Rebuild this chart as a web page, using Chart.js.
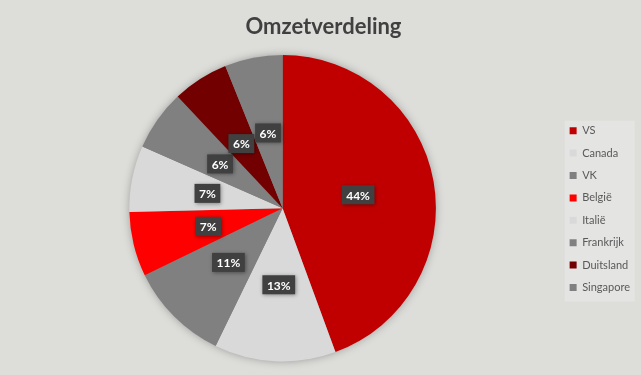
<!DOCTYPE html>
<html>
<head>
<meta charset="utf-8">
<script src="https://cdn.jsdelivr.net/npm/chart.js@4/dist/chart.umd.min.js"></script>
<style>
  html, body { margin: 0; padding: 0; background: #dddeda; }
  #wrap { width: 641px; height: 375px; }
</style>
</head>
<body>
<div id="wrap"><canvas id="pie-chart" width="641" height="375"></canvas></div>
<script>
"use strict";

// landen en omzetaandeel (in %)
const countries = ["VS", "Canada", "VK", "België", "Italië", "Frankrijk", "Duitsland", "Singapore"];
const revenueShare = [44.4, 12.8, 10.6, 6.8, 7.0, 6.4, 5.9, 6.1];
const sliceColors = ["#c00000", "#d9d9d9", "#808080", "#ff0000", "#d9d9d9", "#808080", "#720000", "#808080"];

// achtergrond, legendakader en schaduw achter de taart
const backgroundPlugin = {
    id: "background",
    beforeDraw(chart) {
        const ctx = chart.ctx;
        ctx.save();
        ctx.fillStyle = "#dddeda";
        ctx.fillRect(0, 0, chart.width, chart.height);
        const hb = chart.legend.legendHitBoxes;
        if (hb && hb.length) {
            const last = hb[hb.length - 1];
            const top = hb[0].top + hb[0].height / 2 - 10;
            const bottom = last.top + last.height / 2 + 14;
            ctx.fillStyle = "#e4e5e2";
            ctx.fillRect(hb[0].left - 5, top, 70, bottom - top);
        }
        ctx.restore();
    },
    beforeDatasetsDraw(chart) {
        const arc = chart.getDatasetMeta(0).data[0];
        if (!arc) return;
        const ctx = chart.ctx;
        ctx.save();
        ctx.shadowColor = "rgba(0,0,0,0.35)";
        ctx.shadowBlur = 10;
        ctx.beginPath();
        ctx.arc(arc.x, arc.y, arc.outerRadius - 1, 0, Math.PI * 2);
        ctx.fillStyle = "#808080";
        ctx.fill();
        ctx.restore();
    }
};

// percentagelabels in donkere vakjes
const labelPlugin = {
    id: "sliceLabels",
    afterDatasetsDraw(chart) {
        const ctx = chart.ctx;
        const values = chart.data.datasets[0].data;
        const total = values.reduce((a, b) => a + b, 0);
        ctx.save();
        ctx.font = "bold 12px Lato";
        ctx.textAlign = "center";
        ctx.textBaseline = "middle";
        chart.getDatasetMeta(0).data.forEach((arc, i) => {
            const p = arc.getCenterPoint();
            const text = Math.round(values[i] / total * 100) + "%";
            const w = ctx.measureText(text).width + 9;
            const h = 19;
            ctx.shadowColor = "rgba(0,0,0,0.4)";
            ctx.shadowBlur = 4;
            ctx.shadowOffsetX = 1;
            ctx.shadowOffsetY = 1;
            ctx.fillStyle = "#404040";
            ctx.fillRect(p.x - w / 2, p.y - h / 2, w, h);
            ctx.shadowColor = "transparent";
            ctx.fillStyle = "#ffffff";
            ctx.fillText(text, p.x, p.y + 1);
        });
        ctx.restore();
    }
};

const chartEl = document.getElementById("pie-chart");

new Chart(chartEl, {
    type: "pie",
    data: {
        labels: countries,
        datasets: [{
            data: revenueShare,
            backgroundColor: sliceColors,
            borderWidth: 0
        }]
    },
    options: {
        responsive: false,
        animation: false,
        layout: {
            padding: { left: 7, right: 1, bottom: 13.5 }
        },
        plugins: {
            title: {
                display: true,
                text: "Omzetverdeling",
                color: "#404040",
                font: { family: "Lato", size: 22, weight: "bold" },
                padding: { top: 14, bottom: 14.5 }
            },
            legend: {
                position: "right",
                align: "start",
                title: {
                    display: true,
                    text: " ",
                    font: { size: 1 },
                    padding: { top: 112.6, bottom: 0 }
                },
                labels: {
                    color: "#595959",
                    font: { family: "Lato", size: 11 },
                    boxWidth: 7,
                    boxHeight: 7,
                    padding: 11.4
                }
            },
            tooltip: { enabled: false }
        }
    },
    plugins: [backgroundPlugin, labelPlugin]
});
</script>
</body>
</html>
